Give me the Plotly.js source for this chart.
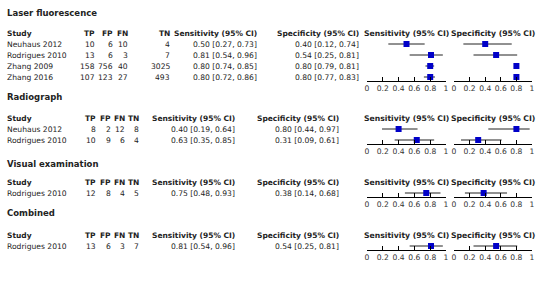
<!DOCTYPE html>
<html>
<head>
<meta charset="utf-8">
<script src="https://cdn.plot.ly/plotly-3.0.1.min.js"></script>
<style>html,body{margin:0;padding:0;background:#fff}#chart{width:540px;height:290px}</style>
</head>
<body>
<div id="chart"></div>
<script>
// ---- data ----
const sectionNames = ["Laser fluorescence", "Radiograph", "Visual examination", "Combined"];
const studies = ["Neuhaus 2012", "Rodrigues 2010", "Zhang 2009", "Zhang 2016", "Neuhaus 2012", "Rodrigues 2010", "Rodrigues 2010", "Rodrigues 2010"];
const sectionOf = [0, 0, 0, 0, 1, 1, 2, 3];
const TP = [10, 13, 158, 107, 8, 10, 12, 13];
const FP = [6, 6, 756, 123, 2, 9, 8, 6];
const FN = [10, 3, 40, 27, 12, 6, 4, 3];
const TN = [4, 7, 3025, 493, 8, 4, 5, 7];
const sens = [0.50, 0.81, 0.80, 0.80, 0.40, 0.63, 0.75, 0.81];
const sensLo = [0.27, 0.54, 0.74, 0.72, 0.19, 0.35, 0.48, 0.54];
const sensHi = [0.73, 0.96, 0.85, 0.86, 0.64, 0.85, 0.93, 0.96];
const spec = [0.40, 0.54, 0.80, 0.80, 0.80, 0.31, 0.38, 0.54];
const specLo = [0.12, 0.25, 0.79, 0.77, 0.44, 0.09, 0.14, 0.25];
const specHi = [0.74, 0.81, 0.81, 0.83, 0.97, 0.61, 0.68, 0.81];
const columnHeaders = ["Study", "TP", "FP", "FN", "TN", "Sensitivity (95% CI)", "Specificity (95% CI)"];
const panelHeaders = ["Sensitivity (95% CI)", "Specificity (95% CI)"];
const tickVals = [0, 0.2, 0.4, 0.6, 0.8, 1];
const tickLabels = ["0", "0.2", "0.4", "0.6", "0.8", "1"];

// ---- layout geometry (pixels) ----
const W = 540, H = 290, ROW = 11;
const FONT = "DejaVu Sans, Verdana, sans-serif";
const wideCols = [96, 113.5, 129, 171, 258, 360];
const narrowCols = [97, 111.5, 126, 140, 236, 340];
const geom = [
  {titleY: 13, firstRowY: 44, axisY: 81, cols: wideCols},
  {titleY: 97, firstRowY: 129, axisY: 144, cols: narrowCols},
  {titleY: 164, firstRowY: 193, axisY: 197, cols: narrowCols},
  {titleY: 213, firstRowY: 246, axisY: 250, cols: narrowCols}
];
const panelX = [[367, 446], [454, 532]];
const studyX = 6;

const fmt = (v, lo, hi) => v.toFixed(2) + " [" + lo.toFixed(2) + ", " + hi.toFixed(2) + "]";

const layout = {
  width: W, height: H, autosize: false,
  margin: {l: 0, r: 0, t: 0, b: 0, pad: 0},
  paper_bgcolor: "#fff", plot_bgcolor: "rgba(0,0,0,0)",
  showlegend: false,
  font: {family: FONT, size: 7.6, color: "#222"},
  annotations: []
};
const traces = [];
const ann = layout.annotations;
const textColor = "#222";
const headSize = 7.5, rowSize = 7.6, titleSize = 8.5;

sectionNames.forEach((name, s) => {
  const g = geom[s];
  const idx = sectionOf.map((v, i) => v === s ? i : -1).filter(i => i >= 0);
  const n = idx.length;
  const lastRowY = g.firstRowY + (n - 1) * ROW;
  const bottomVal = n + (g.axisY - lastRowY) / ROW;
  const topPix = g.firstRowY - 1.5 * ROW;   // includes header row (value 0)
  const yName = "yaxis" + (s + 1);
  const yRef = "y" + (s + 1);
  layout[yName] = {
    domain: [1 - g.axisY / H, 1 - topPix / H],
    range: [bottomVal, -0.5],
    visible: false, showgrid: false, zeroline: false, fixedrange: true,
    anchor: "x" + (s * 2 + 1)
  };
  // panels
  [0, 1].forEach(p => {
    const xi = s * 2 + p + 1;
    layout["xaxis" + xi] = {
      domain: [panelX[p][0] / W, panelX[p][1] / W],
      range: [0, 1], anchor: yRef,
      showgrid: false, zeroline: false, fixedrange: true,
      showline: true, linecolor: "#000", linewidth: 1,
      ticks: "inside", ticklen: 4, tickcolor: "#000", tickwidth: 1,
      tickvals: tickVals, ticktext: tickLabels,
      tickfont: {family: FONT, size: 7.6, color: "#333"}
    };
    const v = p === 0 ? sens : spec, lo = p === 0 ? sensLo : specLo, hi = p === 0 ? sensHi : specHi;
    const lx = [], ly = [];
    idx.forEach((i, k) => { lx.push(lo[i], hi[i], null); ly.push(k + 1, k + 1, null); });
    traces.push({type: "scatter", mode: "lines", x: lx, y: ly, xaxis: "x" + xi, yaxis: yRef,
      line: {color: "#222", width: 1}, hoverinfo: "skip", cliponaxis: false});
    traces.push({type: "scatter", mode: "markers", x: idx.map(i => v[i]), y: idx.map((i, k) => k + 1),
      xaxis: "x" + xi, yaxis: yRef, cliponaxis: false,
      marker: {symbol: "square", size: 6, color: "#0000c8", line: {width: 0}}});
    ann.push({xref: "x" + xi, yref: yRef, x: 0.5, y: 0, xanchor: "center", yanchor: "middle",
      text: "<b>" + panelHeaders[p] + "</b>", showarrow: false, borderpad: 0,
      font: {family: FONT, size: 7.7, color: textColor}});
  });
  // section title
  ann.push({xref: "paper", yref: "paper", x: studyX / W, y: 1 - g.titleY / H, xanchor: "left", yanchor: "middle",
    text: "<b>" + name + "</b>", showarrow: false, borderpad: 0,
    font: {family: FONT, size: titleSize, color: textColor}});
  // column headers
  columnHeaders.forEach((h, c) => {
    const xpx = c === 0 ? studyX : g.cols[c - 1];
    ann.push({xref: "paper", yref: yRef, x: xpx / W, y: 0, xanchor: c === 0 ? "left" : "right", yanchor: "middle",
      text: "<b>" + h + "</b>", showarrow: false, borderpad: 0,
      font: {family: FONT, size: headSize, color: textColor}});
  });
  // rows
  idx.forEach((i, k) => {
    const cells = [studies[i], String(TP[i]), String(FP[i]), String(FN[i]), String(TN[i]),
      fmt(sens[i], sensLo[i], sensHi[i]), fmt(spec[i], specLo[i], specHi[i])];
    cells.forEach((t, c) => {
      const xpx = c === 0 ? studyX : g.cols[c - 1];
      ann.push({xref: "paper", yref: yRef, x: xpx / W, y: k + 1, xanchor: c === 0 ? "left" : "right", yanchor: "middle",
        text: t, showarrow: false, borderpad: 0,
        font: {family: FONT, size: rowSize, color: textColor}});
    });
  });
});

Plotly.newPlot("chart", traces, layout, {staticPlot: true, displayModeBar: false});
</script>
</body>
</html>
